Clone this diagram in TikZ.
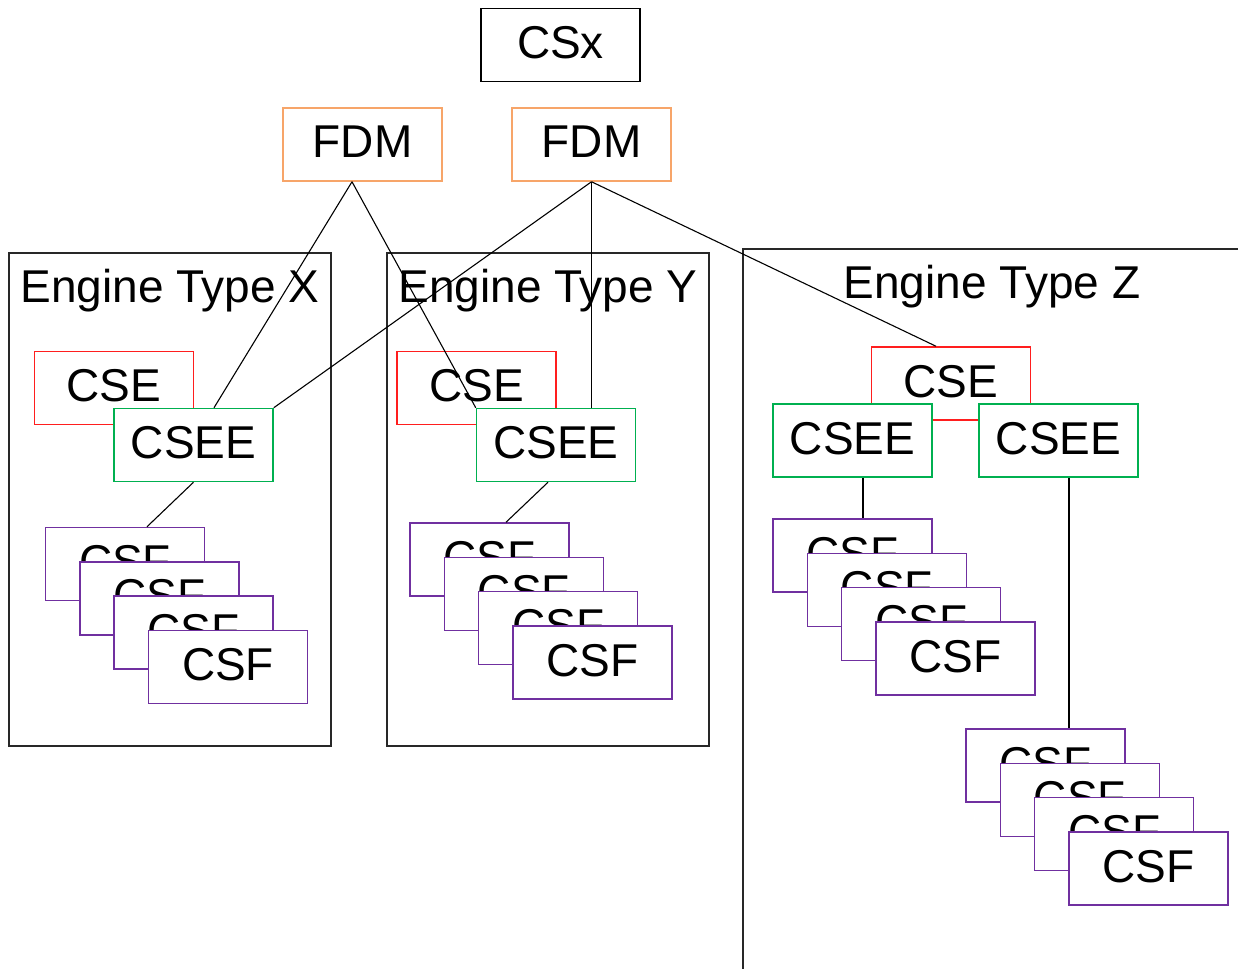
\documentclass[tikz,border=0pt]{standalone}
\usepackage{fontspec}
\setmainfont{Liberation Sans}
\usetikzlibrary{calc}
\definecolor{cseRed}{RGB}{255,30,30}
\definecolor{cseeGreen}{RGB}{0,176,80}
\definecolor{fdmOrange}{RGB}{247,165,105}
\definecolor{csfPurple}{RGB}{112,48,160}
\definecolor{frameGray}{RGB}{40,40,40}
\tikzset{
  unit/.style={draw, fill=white, minimum width=159pt, minimum height=73pt, inner sep=0pt, line width=1.5pt,
               text depth=5pt, font=\fontsize{46}{55}\selectfont},
  csxbox/.style={unit, draw=black},
  fdmbox/.style={unit, draw=fdmOrange},
  csebox/.style={unit, draw=cseRed},
  cseebox/.style={unit, draw=cseeGreen},
  csfbox/.style={unit, draw=csfPurple},
  frame/.style={draw=frameGray, line width=1.5pt},
  title/.style={anchor=base, inner sep=0pt, font=\fontsize{46}{55}\selectfont},
  link/.style={draw=black, line width=1.1pt}
}
\begin{document}
\begin{tikzpicture}[x=1pt,y=-1pt]
\useasboundingbox (0,0) rectangle (1238,968);
\fill[white] (0,0) rectangle (1238,968);
% frames
\draw[frame] (9,253) rectangle (331,746);
\draw[frame] (387,253) rectangle (709,746);
\draw[frame] (1245,249) -- (743,249) -- (743,975);
\node[title] (tX) at (170,302) {Engine Type X};
\node[title] (tY) at (548,302) {Engine Type Y};
\node[title] (tZ) at (992,298) {Engine Type Z};
% top
\node[csxbox] (csx) at (560.5,45) {CSx};
\node[fdmbox] (fdm1) at (362.5,144.5) {FDM};
\node[fdmbox] (fdm2) at (591.5,144.5) {FDM};
% X
\node[csebox] (cseX) at (114,388) {CSE};
\node[cseebox] (cseeX) at (193.5,445) {CSEE};
\node[csfbox] (cfX1) at (125,564) {CSF};
\node[csfbox] (cfX2) at (159.3,598.3) {CSF};
\node[csfbox] (cfX3) at (193.6,632.6) {CSF};
\node[csfbox] (cfX4) at (228,667) {CSF};
% Y
\node[csebox] (cseY) at (476.5,388) {CSE};
\node[cseebox] (cseeY) at (556,445) {CSEE};
\node[csfbox] (cfY1) at (489.5,559.5) {CSF};
\node[csfbox] (cfY2) at (523.8,593.8) {CSF};
\node[csfbox] (cfY3) at (558.1,628.1) {CSF};
\node[csfbox] (cfY4) at (592.5,662.5) {CSF};
% Z
\node[csebox] (cseZ) at (951,383.5) {CSE};
\node[cseebox] (cseeZa) at (852.5,440.5) {CSEE};
\node[cseebox] (cseeZb) at (1058.5,440.5) {CSEE};
\node[csfbox] (cfZa1) at (852.5,555.5) {CSF};
\node[csfbox] (cfZa2) at (886.8,589.8) {CSF};
\node[csfbox] (cfZa3) at (921.1,624.1) {CSF};
\node[csfbox] (cfZa4) at (955.5,658.5) {CSF};
\node[csfbox] (cfZb1) at (1045.5,765.5) {CSF};
\node[csfbox] (cfZb2) at (1079.8,799.8) {CSF};
\node[csfbox] (cfZb3) at (1114.1,834.1) {CSF};
\node[csfbox] (cfZb4) at (1148.5,868.5) {CSF};
% connectors
\coordinate (fdm1apex) at ($(fdm1.south)+(-10.5,0)$);
\draw[link] (fdm1apex) -- ($(cseeX.north)+(20.5,0)$);
\draw[link] (fdm1apex) -- (cseeY.north west);
\draw[link] (fdm2.south) -- (cseeX.north east);
\draw[link] (fdm2.south) -- (cseeY.north -| fdm2.south);
\draw[link] (fdm2.south) -- ($(cseZ.north)+(-15,0)$);
\draw[link] (cseeX.south) -- ($(cfX1.north)+(22,0)$);
\draw[link] ($(cseeY.south)+(-8,0)$) -- ($(cfY1.north)+(16.5,0)$);
\draw[link] ($(cseeZa.south)+(10.5,0)$) -- ($(cfZa1.north)+(10.5,0)$);
\draw[link] ($(cseeZb.south)+(10.5,0)$) -- ($(cfZb1.north)+(23.5,0)$);
\end{tikzpicture}
\end{document}
